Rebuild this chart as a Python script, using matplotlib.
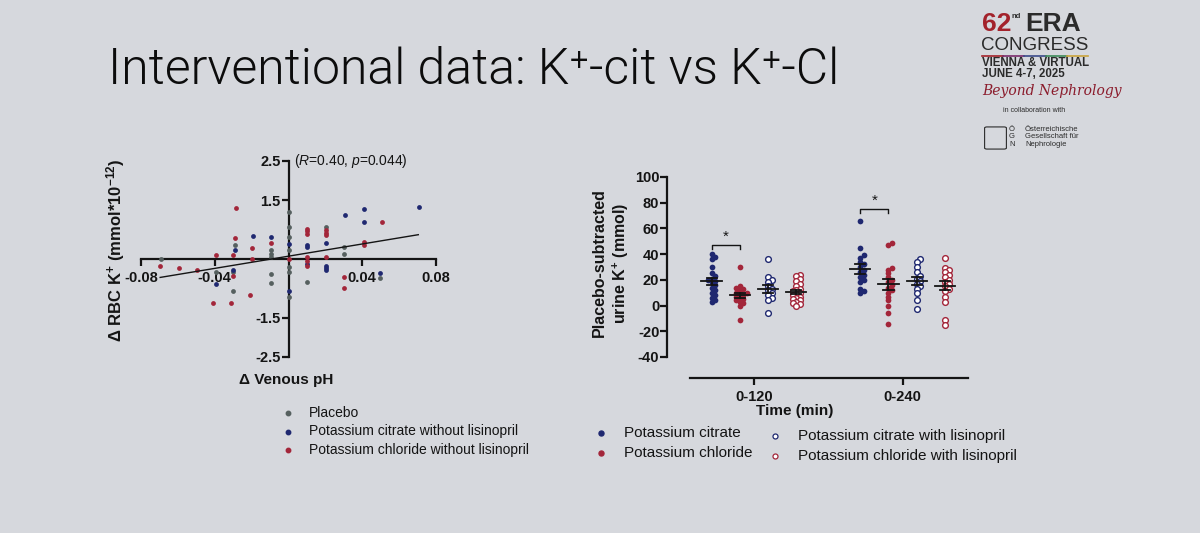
import matplotlib
matplotlib.use('Agg')
import matplotlib.pyplot as plt
import numpy as np
from matplotlib.lines import Line2D
from matplotlib.patches import FancyBboxPatch

plt.rcParams['font.family'] = ['Liberation Sans', 'DejaVu Sans']
plt.rcParams['mathtext.fontset'] = 'custom'
plt.rcParams['mathtext.rm'] = 'Liberation Sans'
plt.rcParams['mathtext.it'] = 'Liberation Sans:italic'
plt.rcParams['mathtext.bf'] = 'Liberation Sans:bold'

# ---------------- Left panel data: delta venous pH vs delta RBC K+ ----------------
placebo_x = [-0.069, -0.0395, -0.029, -0.030, -0.030, -0.0095, -0.0095, -0.0095, -0.0095, -0.0095,
             0.0005, 0.0005, 0.0005, 0.0005, 0.0005, 0.0005, 0.0005, 0.0101, 0.0205, 0.0303, 0.0303, 0.0497]
placebo_y = [0.00, -0.34, 0.35, -0.32, -0.81, 0.22, 0.13, 0.05, -0.38, -0.61,
             1.20, 0.82, 0.56, 0.22, -0.21, -0.34, -0.98, -0.58, 0.82, 0.30, 0.13, -0.49]

citrate_x = [-0.0395, -0.029, -0.030, -0.0193, -0.0095, 0.0, 0.0, 0.0101, 0.0101, 0.0101,
             0.0205, 0.0205, 0.0205, 0.0205, 0.0308, 0.0407, 0.0407, 0.0497, 0.071]
citrate_y = [-0.64, 0.22, -0.28, 0.58, 0.56, 0.39, -0.81, 0.36, 0.30, -0.12,
             0.41, -0.17, -0.24, -0.29, 1.13, 1.27, 0.94, -0.35, 1.33]

chloride_x = [-0.0696, -0.0596, -0.0497, -0.0395, -0.0407, -0.0285, -0.0292, -0.030, -0.030, -0.031,
              -0.0196, -0.0196, -0.0209, -0.0095, 0.0, 0.0101, 0.0101, 0.0101, 0.0101, 0.0101,
              0.0101, 0.0205, 0.0205, 0.0205, 0.0205, 0.0299, 0.0299, 0.0407, 0.0407, 0.0506]
chloride_y = [-0.17, -0.23, -0.27, 0.11, -1.12, 1.29, 0.53, 0.09, -0.44, -1.12,
              0.28, 0.00, -0.92, 0.41, 0.00, 0.77, 0.71, 0.65, 0.05, -0.06,
              -0.18, 0.73, 0.67, 0.60, 0.05, -0.47, -0.75, 0.43, 0.36, 0.94]

fit_x = [-0.0696, 0.0704]
fit_y = [-0.47, 0.62]

left_xticks = [-0.08, -0.04, 0.04, 0.08]
left_xticklabels = ['-0.08', '-0.04', '0.04', '0.08']
left_yticks = [-2.5, -1.5, 1.5, 2.5]
left_yticklabels = ['-2.5', '-1.5', '1.5', '2.5']
left_legend = ['Placebo', 'Potassium citrate without lisinopril', 'Potassium chloride without lisinopril']

# ---------------- Right panel data: placebo-subtracted urine K+ ----------------
time_groups = ['0-120', '0-240']
cit_120 = [40, 38, 36, 30, 25, 23, 21, 20, 19, 18, 16, 14, 12, 10, 8, 6, 4, 3]
cl_120 = [30, 15, 14, 13, 12, 10, 10, 9, 8, 7, 6, 5, 4, 3, 2, 0, -11]
citlis_120 = [36, 22, 20, 18, 15, 13, 12, 10, 8, 6, 4, -6]
cllis_120 = [24, 23, 21, 19, 17, 15, 13, 12, 11, 10, 9, 8, 7, 6, 5, 4, 3, 2, 1, 0]
cit_240 = [66, 45, 39, 37, 34, 32, 30, 28, 26, 24, 22, 20, 18, 13, 11, 10]
cl_240 = [49, 47, 29, 28, 25, 22, 20, 18, 16, 14, 12, 10, 7, 4, 0, -6, -14]
citlis_240 = [36, 34, 30, 26, 23, 21, 19, 17, 15, 13, 10, 4, -3]
cllis_240 = [37, 29, 28, 26, 24, 22, 20, 18, 17, 15, 13, 11, 7, 3, -11, -15]
right_yticks = [-40, -20, 0, 20, 40, 60, 80, 100]
right_legend = ['Potassium citrate', 'Potassium chloride',
                'Potassium citrate with lisinopril', 'Potassium chloride with lisinopril']
sig_pairs = [(0, 47.3, 43.9), (1, 75.3, 72.0)]  # group, bracket top, leg bottom

# ---------------- styling ----------------
BG = '#d6d8dd'
INK = '#141414'
GREY = '#56605f'
NAVY = '#1f2870'
RED = '#a3263a'

W, H = 1200, 533
fig = plt.figure(figsize=(12, 5.33), dpi=100, facecolor=BG)

def fx(x):
    return x / W

def fy(y):
    return 1 - y / H

# Title
fig.text(fx(108), fy(70), 'Interventional data: K\u207a-cit vs K\u207a-Cl', fontsize=36,
         family=['Roboto', 'DejaVu Sans'], fontweight=300, color='#0c0c0c', va='center', ha='left')

# ---------------- Left axes ----------------
axL = fig.add_axes([fx(141), fy(357), (436 - 141) / W, (357 - 161) / H])
axL.set_facecolor('none')
axL.set_xlim(-0.08, 0.08)
axL.set_ylim(-2.5, 2.5)
for s in ['top', 'right']:
    axL.spines[s].set_visible(False)
axL.spines['left'].set_position(('data', 0))
axL.spines['bottom'].set_position(('data', 0))
for s in ['left', 'bottom']:
    axL.spines[s].set_linewidth(1.6)
    axL.spines[s].set_color(INK)
axL.set_xticks(left_xticks)
axL.set_xticklabels(left_xticklabels)
axL.set_yticks(left_yticks)
axL.set_yticklabels(left_yticklabels)
axL.tick_params(axis='both', direction='out', length=5, width=1.6, color=INK,
                labelsize=10.5, labelcolor=INK)
axL.tick_params(axis='y', pad=0.5)
for lab in axL.get_xticklabels() + axL.get_yticklabels():
    lab.set_fontweight('bold')

axL.scatter(placebo_x, placebo_y, s=12, color=GREY, zorder=3, linewidths=0)
axL.scatter(citrate_x, citrate_y, s=12, color=NAVY, zorder=3, linewidths=0)
axL.scatter(chloride_x, chloride_y, s=12, color=RED, zorder=3, linewidths=0)
axL.plot(fit_x, fit_y, color=INK, lw=1.0, zorder=4)
axL.text(0.0028, 2.5, '($\\it{R}$=0.40, $\\it{p}$=0.044)', fontsize=10, color=INK, va='center', ha='left')

fig.text(fx(116), fy(250), r'$\mathbf{\Delta\ RBC\ K^{+}\ (mmol{*}10^{-12})}$', rotation=90,
         fontsize=12, color=INK, va='center', ha='center')
fig.text(fx(286), fy(380), '\u0394 Venous pH', fontsize=11, fontweight='bold', color=INK,
         va='center', ha='center')

# Left legend
leg_colors = [GREY, NAVY, RED]
for i, (lab, c) in enumerate(zip(left_legend, leg_colors)):
    yy = 413 + i * 18.5
    fig.add_artist(Line2D([fx(288)], [fy(yy)], marker='o', ms=3.2, color=c, lw=0))
    fig.text(fx(309), fy(yy), lab, fontsize=10, color=INK, va='center', ha='left')

# ---------------- Right axes ----------------
px_per_x = 148.7
px_per_y = 180 / 140.0
axR = fig.add_axes([fx(667), fy(357), (968 - 667) / W, (357 - 177) / H])
axR.set_facecolor('none')
axR.set_xlim(-0.585, 1.44)
axR.set_ylim(-40, 100)
for s in ['top', 'right']:
    axR.spines[s].set_visible(False)
axR.spines['bottom'].set_position(('outward', 15))
axR.spines['bottom'].set_bounds(-0.43, 1.44)
axR.spines['left'].set_bounds(-40, 100)
for s in ['left', 'bottom']:
    axR.spines[s].set_linewidth(1.6)
    axR.spines[s].set_color(INK)
axR.set_yticks(right_yticks)
axR.set_yticklabels([str(v) for v in right_yticks])
axR.set_xticks([0, 1])
axR.set_xticklabels(time_groups)
axR.tick_params(axis='both', direction='out', length=5, width=1.6, color=INK,
                labelsize=10.5, labelcolor=INK)
axR.tick_params(axis='y', pad=0.5)
for lab in axR.get_xticklabels() + axR.get_yticklabels():
    lab.set_fontweight('bold')


def swarm_x(vals, center, d=3.6):
    vals = np.asarray(vals, dtype=float)
    order = np.argsort(vals)
    placed = []
    xs = np.zeros(len(vals))
    for i in order:
        yp = vals[i] * px_per_y
        chosen = 0.0
        for k in [0, 1, -1, 2, -2, 3, -3]:
            xp = k * d
            if all((xp - a) ** 2 + (yp - b) ** 2 >= d ** 2 for a, b in placed):
                chosen = xp
                break
        placed.append((chosen, yp))
        xs[i] = center + chosen / px_per_x
    return xs


offsets = [-0.285, -0.095, 0.095, 0.285]
series = [
    ([cit_120, cit_240], NAVY, True),
    ([cl_120, cl_240], RED, True),
    ([citlis_120, citlis_240], NAVY, False),
    ([cllis_120, cllis_240], RED, False),
]
for si, (vals_by_group, col, filled) in enumerate(series):
    for g, vals in enumerate(vals_by_group):
        c = g + offsets[si]
        xs = swarm_x(vals, c)
        if filled:
            axR.scatter(xs, vals, s=17, color=col, zorder=3, linewidths=0)
        else:
            axR.scatter(xs, vals, s=17, facecolor='white', edgecolor=col, linewidths=1.0, zorder=3)
        m = np.mean(vals)
        sem = np.std(vals, ddof=1) / np.sqrt(len(vals))
        axR.plot([c - 0.068, c + 0.068], [m, m], color=INK, lw=1.3, zorder=5)
        axR.plot([c - 0.034, c + 0.034], [m + sem, m + sem], color=INK, lw=1.3, zorder=5)
        axR.plot([c - 0.034, c + 0.034], [m - sem, m - sem], color=INK, lw=1.3, zorder=5)
        axR.plot([c, c], [m - sem, m + sem], color=INK, lw=1.3, zorder=5)

for g, top, bot in sig_pairs:
    a, b = g + offsets[0], g + offsets[1]
    axR.plot([a, a, b, b], [bot, top, top, bot], color=INK, lw=1.0, zorder=4)
    axR.text((a + b) / 2, top + 1.0, '*', fontsize=11, ha='center', va='bottom', color=INK)

fig.text(fx(611), fy(263), 'Placebo-subtracted\nurine $\\mathbf{K^{+}}$ (mmol)', rotation=90, fontsize=11.5,
         fontweight='bold', color=INK, va='center', ha='center', multialignment='center',
         linespacing=1.25)
fig.text(fx(795), fy(411), 'Time (min)', fontsize=11, fontweight='bold', color=INK,
         va='center', ha='center')

# Right legend
rl_pos = [(601, 433, NAVY, True), (601, 453, RED, True), (775, 436, NAVY, False), (775, 456, RED, False)]
for lab, (x0, y0, c, filled) in zip(right_legend, rl_pos):
    if filled:
        fig.add_artist(Line2D([fx(x0)], [fy(y0)], marker='o', ms=3.6, color=c, lw=0))
    else:
        fig.add_artist(Line2D([fx(x0)], [fy(y0)], marker='o', ms=3.6, mfc='white', mec=c, mew=0.9, lw=0))
    fig.text(fx(x0 + 23), fy(y0), lab, fontsize=11, color=INK, va='center', ha='left')

# ---------------- Congress logo ----------------
fig.text(fx(982), fy(24), '62', fontsize=19, fontweight='bold', color='#a3222b', va='center', ha='left')
fig.text(fx(1011), fy(16), 'nd', fontsize=5.5, fontweight='bold', color='#2b2b2b', va='center', ha='left')
fig.text(fx(1025), fy(24), 'ERA', fontsize=19, fontweight='bold', color='#2b2b2b', va='center', ha='left')
fig.text(fx(981), fy(45.5), 'CONGRESS', fontsize=13.5, color='#2b2b2b', va='center', ha='left')
seg_cols = ['#a3222b', '#7a2a6b', '#3b4a8a', '#3d8a5a', '#c9a23a']
for i, c in enumerate(seg_cols):
    x0 = 982 + i * (106 / len(seg_cols))
    x1 = 982 + (i + 1) * (106 / len(seg_cols))
    fig.add_artist(Line2D([fx(x0), fx(x1)], [fy(56), fy(56)], color=c, lw=1.2))
fig.text(fx(982), fy(63), 'VIENNA & VIRTUAL', fontsize=8.3, fontweight='bold', color='#2b2b2b', va='center', ha='left')
fig.text(fx(982), fy(74), 'JUNE 4-7, 2025', fontsize=8.3, fontweight='bold', color='#2b2b2b', va='center', ha='left')
fig.text(fx(982), fy(91), 'Beyond Nephrology', fontsize=10, fontstyle='italic', family=['DejaVu Serif'],
         color='#8b1c2c', va='center', ha='left')
fig.text(fx(1003), fy(111), 'in collaboration with', fontsize=5, color='#2b2b2b', va='center', ha='left')
fig.add_artist(FancyBboxPatch((fx(987), fy(148)), 17 / W, 20 / H, boxstyle='round,pad=0.002',
                              fill=False, ec='#2b2b2b', lw=0.8, transform=fig.transFigure))
fig.text(fx(1012), fy(137), '\u00d6\nG\nN', fontsize=5.5, color='#2b2b2b', va='center', ha='center',
         linespacing=1.05)
fig.text(fx(1025), fy(137), '\u00d6sterreichische\nGesellschaft f\u00fcr\nNephrologie', fontsize=5.5,
         color='#2b2b2b', va='center', ha='left', linespacing=1.05)

fig.savefig('out.png', dpi=100, facecolor=BG)
